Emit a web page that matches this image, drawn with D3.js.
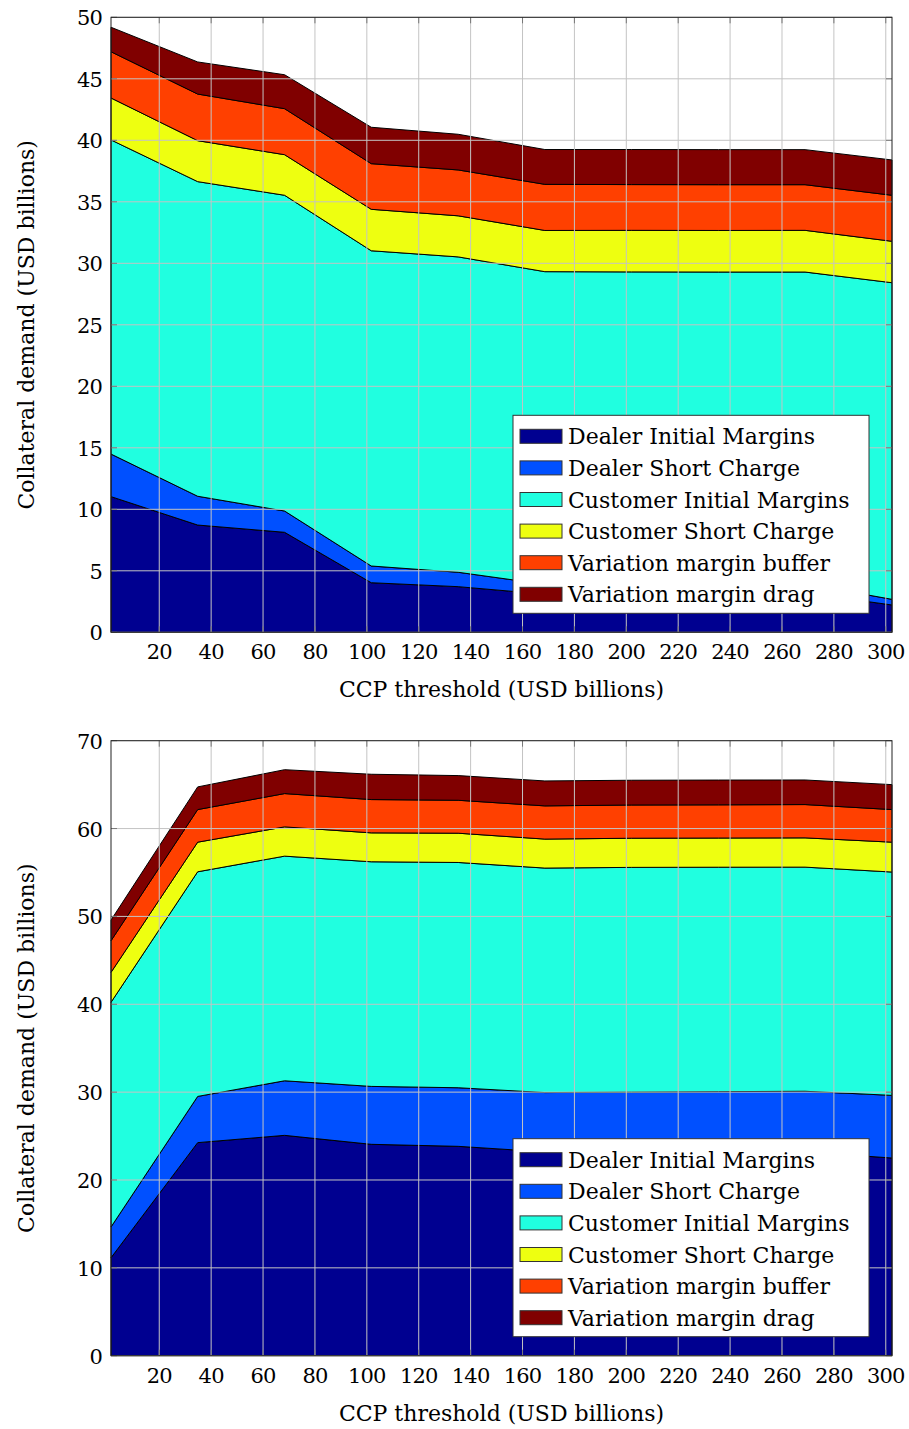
<!DOCTYPE html>
<html>
<head>
<meta charset="utf-8">
<script src="https://cdn.jsdelivr.net/npm/d3@7"></script>
<style>
  body { margin: 0; background: #fff; }
  svg text { font-family: "DejaVu Serif", serif; fill: #000; }
</style>
</head>
<body>
<svg id="chart" width="909" height="1429"></svg>
<script>
// CCP thresholds (x positions of data points)
const thresholds = [1.4, 34.8, 68.3, 101.7, 135.2, 168.6, 202.0, 235.5, 268.9, 302.4];

const seriesNames = ['Dealer Initial Margins', 'Dealer Short Charge', 'Customer Initial Margins',
                     'Customer Short Charge', 'Variation margin buffer', 'Variation margin drag'];
const seriesColors = ['#000090', '#0050ff', '#20ffe0', '#eeff10', '#ff4000', '#800000'];

// top panel
const topDealerIM    = [11.03, 8.72, 8.13, 4.03, 3.71, 3.10, 3.12, 3.15, 3.20, 2.22];
const topDealerShort = [3.46, 2.34, 1.73, 1.36, 1.17, 0.80, 0.78, 0.76, 0.75, 0.46];
const topCustIM      = [25.54, 25.58, 25.67, 25.63, 25.64, 25.42, 25.40, 25.38, 25.34, 25.74];
const topCustShort   = [3.41, 3.33, 3.30, 3.37, 3.34, 3.35, 3.38, 3.38, 3.39, 3.37];
const topVMBuffer    = [3.76, 3.79, 3.74, 3.71, 3.73, 3.75, 3.72, 3.72, 3.71, 3.74];
const topVMDrag      = [1.99, 2.61, 2.76, 2.96, 2.90, 2.83, 2.85, 2.85, 2.85, 2.87];

// bottom panel
const botDealerIM    = [11.15, 24.25, 25.08, 24.06, 23.83, 23.20, 23.20, 23.20, 23.20, 22.50];
const botDealerShort = [3.50, 5.26, 6.21, 6.59, 6.67, 6.75, 6.80, 6.85, 6.90, 7.13];
const botCustIM      = [25.57, 25.57, 25.57, 25.57, 25.64, 25.55, 25.58, 25.55, 25.51, 25.42];
const botCustShort   = [3.41, 3.37, 3.33, 3.29, 3.33, 3.30, 3.32, 3.32, 3.33, 3.40];
const botVMBuffer    = [3.60, 3.71, 3.79, 3.79, 3.75, 3.78, 3.78, 3.78, 3.79, 3.71];
const botVMDrag      = [2.35, 2.58, 2.72, 2.88, 2.81, 2.84, 2.82, 2.82, 2.80, 2.84];

const xTicks = d3.range(20, 301, 20);

const svg = d3.select('#chart');

function makeRows(cols) {
  return thresholds.map((t, i) => {
    const row = { x: t };
    seriesNames.forEach((n, k) => row[n] = cols[k][i]);
    return row;
  });
}

function drawPanel(top, cols, yMax, yStep) {
  const left = 111, right = 892, bottom = top + 615;
  const g = svg.append('g');

  const xScale = d3.scaleLinear().domain([thresholds[0], thresholds[thresholds.length - 1]]).range([left, right]);
  const yScale = d3.scaleLinear().domain([0, yMax]).range([bottom, top]);
  const yTicks = d3.range(0, yMax + 0.001, yStep);

  const stacked = d3.stack().keys(seriesNames)(makeRows(cols));

  const area = d3.area()
    .x(d => xScale(d.data.x))
    .y0(d => yScale(d[0]))
    .y1(d => yScale(d[1]));

  g.selectAll('path.layer')
    .data(stacked)
    .enter()
    .append('path')
      .classed('layer', true)
      .attr('d', area)
      .attr('fill', (d, i) => seriesColors[i])
      .attr('stroke', '#000')
      .attr('stroke-width', 1)
      .attr('stroke-linejoin', 'round');

  // grid on top of the fills
  g.selectAll('line.gx')
    .data(xTicks)
    .enter()
    .append('line')
      .attr('x1', d => xScale(d)).attr('x2', d => xScale(d))
      .attr('y1', top).attr('y2', bottom)
      .attr('stroke', '#c4c4c4').attr('stroke-width', 1);

  g.selectAll('line.gy')
    .data(yTicks)
    .enter()
    .append('line')
      .attr('x1', left).attr('x2', right)
      .attr('y1', d => yScale(d)).attr('y2', d => yScale(d))
      .attr('stroke', '#c4c4c4').attr('stroke-width', 1);

  // inner tick marks on all four sides
  const tl = 6;
  xTicks.forEach(t => {
    g.append('line').attr('x1', xScale(t)).attr('x2', xScale(t)).attr('y1', bottom).attr('y2', bottom - tl).attr('stroke', '#777');
    g.append('line').attr('x1', xScale(t)).attr('x2', xScale(t)).attr('y1', top).attr('y2', top + tl).attr('stroke', '#777');
  });
  yTicks.forEach(t => {
    g.append('line').attr('x1', left).attr('x2', left + tl).attr('y1', yScale(t)).attr('y2', yScale(t)).attr('stroke', '#777');
    g.append('line').attr('x1', right).attr('x2', right - tl).attr('y1', yScale(t)).attr('y2', yScale(t)).attr('stroke', '#777');
  });

  g.append('rect')
    .attr('x', left).attr('y', top)
    .attr('width', right - left).attr('height', bottom - top)
    .attr('fill', 'none').attr('stroke', '#222').attr('stroke-width', 1);

  // tick labels
  g.selectAll('text.xt')
    .data(xTicks)
    .enter()
    .append('text')
      .attr('x', d => xScale(d))
      .attr('y', bottom + 27)
      .attr('text-anchor', 'middle')
      .style('font-size', '21px')
      .style('letter-spacing', '-0.8px')
      .text(d => d);

  g.selectAll('text.yt')
    .data(yTicks)
    .enter()
    .append('text')
      .attr('x', left - 9)
      .attr('y', d => yScale(d) + 8)
      .attr('text-anchor', 'end')
      .style('font-size', '21px')
      .style('letter-spacing', '-0.8px')
      .text(d => d);

  g.append('text')
    .attr('x', (left + right) / 2)
    .attr('y', bottom + 65)
    .attr('text-anchor', 'middle')
    .style('font-size', '22px')
    .text('CCP threshold (USD billions)');

  g.append('text')
    .attr('transform', `translate(34, ${(top + bottom) / 2}) rotate(-90)`)
    .attr('text-anchor', 'middle')
    .style('font-size', '22px')
    .text('Collateral demand (USD billions)');

  // legend
  const lx = 513, ly = bottom - 217, lw = 356, lh = 198;
  const leg = g.append('g');
  leg.append('rect')
    .attr('x', lx).attr('y', ly).attr('width', lw).attr('height', lh)
    .attr('fill', '#fff').attr('stroke', '#333').attr('stroke-width', 1);

  const item = leg.selectAll('g.item')
    .data(seriesNames)
    .enter()
    .append('g')
      .attr('transform', (d, i) => `translate(${lx}, ${ly + 21 + i * 31.6})`);

  item.append('rect')
    .attr('x', 7).attr('y', -7).attr('width', 42).attr('height', 14)
    .attr('fill', (d, i) => seriesColors[i])
    .attr('stroke', '#333').attr('stroke-width', 1);

  item.append('text')
    .attr('x', 55).attr('y', 8)
    .style('font-size', '22px')
    .text(d => d);
}

drawPanel(17.3,
  [topDealerIM, topDealerShort, topCustIM, topCustShort, topVMBuffer, topVMDrag], 50, 5);
drawPanel(740.7,
  [botDealerIM, botDealerShort, botCustIM, botCustShort, botVMBuffer, botVMDrag], 70, 10);
</script>
</body>
</html>
